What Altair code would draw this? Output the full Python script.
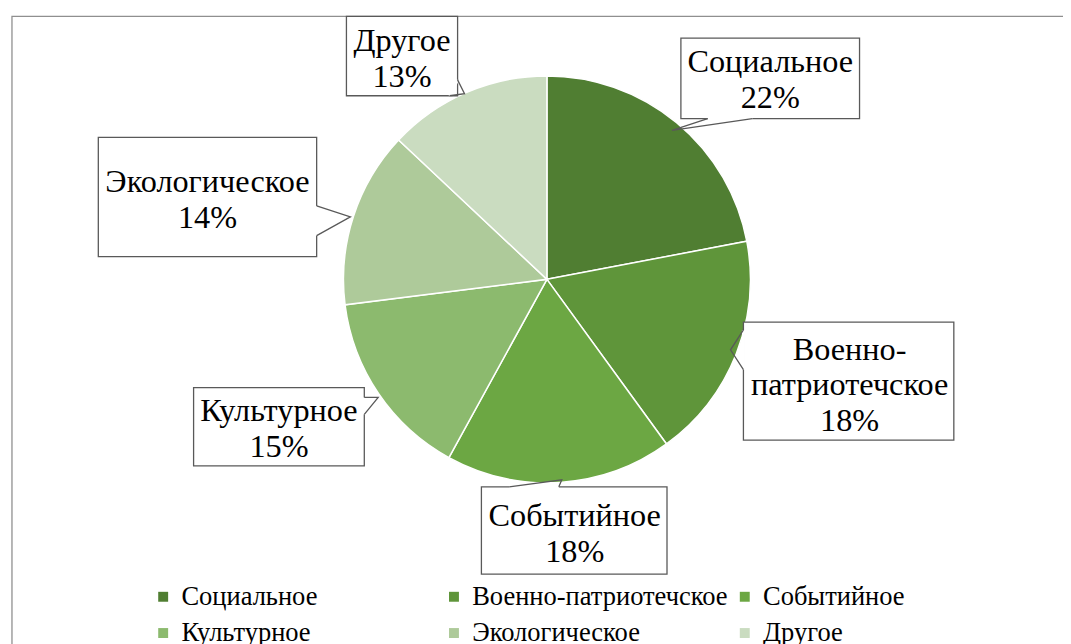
import altair as alt
import pandas as pd

# ---- data ----
categories = ["Социальное", "Военно-патриотечское", "Событийное",
              "Культурное", "Экологическое", "Другое"]
shares = [22, 18, 18, 15, 14, 13]
label_lines = [["Социальное", "22%"], ["Военно-", "патриотечское", "18%"], ["Событийное", "18%"],
               ["Культурное", "15%"], ["Экологическое", "14%"], ["Другое", "13%"]]
colors = ["#507E32", "#5F953A", "#6CA743", "#8CBA6E", "#AECA9A", "#CADCC0"]

# ---- layout (page pixel coordinates; page margin is 8px) ----
M = 8
W, H = 1071 - M, 644 - M
CX, CY, R = 551, 279, 205
LINE_H = 36
label_centers = [(776, 78), (856, 386), (579, 536), (281, 430), (209, 199), (405, 57)]
boxes = [(686, 36, 866, 117), (749, 322, 961, 441), (485, 488, 672, 576),
         (195, 388, 367, 467), (99, 136, 319, 256), (349, 14, 461, 94)]
pointers = [  # base1, tip, base2
    [(713, 117), (677, 129), (758, 117)],
    [(749, 330), (736, 350), (749, 370)],
    [(513, 488), (566, 481), (563, 488)],
    [(367, 398), (381, 398), (367, 415)],
    [(319, 205), (353, 216), (319, 235)],
    [(461, 78), (468, 92), (453, 94)],
]

pie_df = pd.DataFrame({"cat": categories, "val": shares, "idx": range(len(categories))})
lab_rows = []
for lines, (cx, cy) in zip(label_lines, label_centers):
    n = len(lines)
    for k, t in enumerate(lines):
        lab_rows.append({"txt": t, "x": cx - M, "y": cy - M + (k - (n - 1) / 2) * LINE_H})
lab_df = pd.DataFrame(lab_rows)
box_df = pd.DataFrame({
    "x": [b[0] - M for b in boxes], "y": [b[1] - M for b in boxes],
    "x2": [b[2] - M for b in boxes], "y2": [b[3] - M for b in boxes],
})
cover_rows, ptr_rows = [], []
for i, (b1, tip, b2) in enumerate(pointers):
    for j, p in enumerate([b1, b2]):
        cover_rows.append({"g": i, "o": j, "x": p[0] - M, "y": p[1] - M})
    for j, p in enumerate([b1, tip, b2]):
        ptr_rows.append({"g": i, "o": j, "x": p[0] - M, "y": p[1] - M})
cover_df = pd.DataFrame(cover_rows)
ptr_df = pd.DataFrame(ptr_rows)

FONT = "Liberation Serif"

frame = alt.Chart(pd.DataFrame({"a": [0]})).mark_rect(
    fill="white", stroke="#8f8f8f", strokeWidth=1.3
).encode(x=alt.value(12 - M), y=alt.value(14 - M), x2=alt.value(W + 40), y2=alt.value(H + 40))

pie = alt.Chart(pie_df).mark_arc(radius=R, stroke="white", strokeWidth=1.5).encode(
    theta=alt.Theta("val:Q", stack=True),
    order=alt.Order("idx:Q"),
    color=alt.Color(
        "cat:N",
        scale=alt.Scale(domain=categories, range=colors),
        legend=alt.Legend(
            title=None, orient="none", legendX=143, legendY=577,
            columns=3, direction="horizontal", gridAlign="all",
            symbolType="square", symbolSize=100, symbolStrokeWidth=0,
            labelFont=FONT, labelFontSize=26.7, labelColor="#000000",
            columnPadding=3, rowPadding=9, labelOffset=5, labelLimit=400,
        ),
    ),
    x=alt.value(CX - M), y=alt.value(CY - M),
)

box_layer = alt.Chart(box_df).mark_rect(fill="white", stroke="#595959", strokeWidth=1.3).encode(
    x=alt.X("x:Q", scale=None), y=alt.Y("y:Q", scale=None),
    x2="x2:Q", y2="y2:Q",
)
cover = alt.Chart(cover_df).mark_line(stroke="white", strokeWidth=3).encode(
    x=alt.X("x:Q", scale=None), y=alt.Y("y:Q", scale=None),
    detail="g:N", order="o:Q",
)
ptr = alt.Chart(ptr_df).mark_line(stroke="#595959", strokeWidth=1.3).encode(
    x=alt.X("x:Q", scale=None), y=alt.Y("y:Q", scale=None),
    detail="g:N", order="o:Q",
)
labels = alt.Chart(lab_df).mark_text(
    font=FONT, fontSize=32.5, align="center", baseline="middle", color="#000000",
).encode(
    x=alt.X("x:Q", scale=None), y=alt.Y("y:Q", scale=None), text="txt:N",
)

chart = alt.layer(frame, pie, box_layer, cover, ptr, labels).properties(
    width=W, height=H, autosize="none", padding=0
).configure_view(stroke=None)

chart.save("out.html", embed_options={"renderer": "svg", "actions": False})
